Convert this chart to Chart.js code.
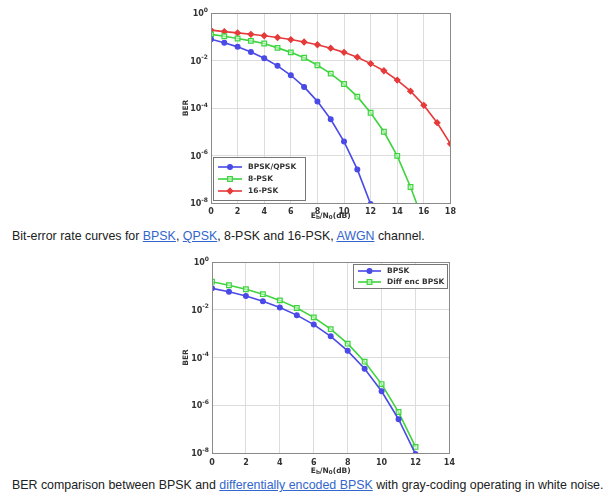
<!DOCTYPE html>
<html><head><meta charset="utf-8">
<script src="https://cdn.jsdelivr.net/npm/chart.js@4/dist/chart.umd.min.js"></script>
<style>
html,body{margin:0;padding:0;background:#fff;width:613px;height:495px;overflow:hidden;font-family:"Liberation Sans",Arial,sans-serif;}
.wrap{position:absolute;}
.cap{position:absolute;left:12px;font-size:12.4px;color:#202122;white-space:nowrap;}
.cap a{color:#3366cc;text-decoration:underline;}
</style></head><body>
<div class="wrap" style="left:175px;top:0px;width:285px;height:222px;"><canvas id="c1" width="285" height="222"></canvas></div>
<div class="cap" style="top:229px;">Bit-error rate curves for <a href="#">BPSK</a>, <a href="#">QPSK</a>, 8-PSK and 16-PSK, <a href="#">AWGN</a> channel.</div>
<div class="wrap" style="left:175px;top:250px;width:285px;height:226px;"><canvas id="c2" width="285" height="226"></canvas></div>
<div class="cap" style="top:478px;">BER comparison between BPSK and <a href="#">differentially encoded BPSK</a> with gray-coding operating in white noise.</div>
<script>
// ---- data ----
const ebn0 = [0,1,2,3,4,5,6,7,8,9,10,11,12,13,14,15,16,17,18];
const berBPSK = [0.0786,0.0563,0.0375,0.0229,0.0125,0.00595,0.00239,7.7e-4,1.9e-4,3.36e-5,3.87e-6,2.6e-7,9.0e-9];
const ber8PSK = [0.126,0.105,0.084,0.067,0.052,0.034,0.022,0.013,0.0063,0.0028,0.00102,3.0e-4,6.3e-5,1.0e-5,9.7e-7,4.7e-8,1.5e-9];
const ber16PSK = [0.19,0.165,0.145,0.127,0.11,0.093,0.076,0.06,0.046,0.033,0.022,0.0138,0.0074,0.0037,0.0015,5.1e-4,1.3e-4,2.4e-5,3.1e-6];
const berDiffBPSK = [0.15,0.106,0.072,0.045,0.0247,0.0118,0.0048,0.00154,3.8e-4,6.7e-5,7.7e-6,5.2e-7,1.8e-8];
const yTicks = [1e-8,1e-6,1e-4,1e-2,1];
const labelsTop = ['BPSK/QPSK','8-PSK','16-PSK'];
const labelsBottom = ['BPSK','Diff enc BPSK'];

const BLUE='#4a4ae6', GREEN='#3ed43e', RED='#e63a3a';
function pts(vals){return vals.map((v,i)=>({x:ebn0[i],y:v}));}
function ds(label,vals,color,style,rad){
  return {label,data:pts(vals),borderColor:color,backgroundColor:style==='rect'?'rgba(255,255,255,0)':color,
    borderWidth:1.6,pointStyle:style,pointRadius:rad,pointBorderColor:color,pointBackgroundColor:style==='rect'?'rgba(210,250,210,0.6)':color,
    pointBorderWidth:1.2,tension:0,fill:false};
}
const TXT='#333';
const framePlugin={id:'frame',
  afterDatasetsDraw(chart,args,opts){
    const ctx=chart.ctx,a=chart.chartArea;
    ctx.save();
    ctx.strokeStyle='#8a8a8a';ctx.lineWidth=1;
    ctx.strokeRect(Math.round(a.left)+0.5,Math.round(a.top)+0.5,Math.round(a.right-a.left),Math.round(a.bottom-a.top));
    // y tick labels 10^e
    const ys=chart.scales.y;
    yTicks.forEach(v=>{
      const py=ys.getPixelForValue(v);
      const e=String(Math.round(Math.log10(v)));
      ctx.font='bold 6px "DejaVu Sans",sans-serif';const we=ctx.measureText(e).width;
      ctx.font='bold 8px "DejaVu Sans",sans-serif';const wb=ctx.measureText('10').width;
      const right=a.left-3;
      ctx.fillStyle=TXT;ctx.textAlign='left';ctx.textBaseline='middle';
      ctx.fillText('10',right-we-wb,py+1);
      ctx.font='bold 6px "DejaVu Sans",sans-serif';
      ctx.fillText(e,right-we,py-3);
    });
    // legend
    const L=opts.legend;
    ctx.fillStyle='#fff';ctx.fillRect(L.x,L.y,L.w,L.h);
    ctx.strokeStyle='#777';ctx.strokeRect(L.x+0.5,L.y+0.5,L.w,L.h);
    chart.data.datasets.forEach((d,i)=>{
      const y=L.y+L.row0+i*L.dy;
      ctx.strokeStyle=d.borderColor;ctx.lineWidth=1.6;
      ctx.beginPath();ctx.moveTo(L.x+L.l0,y);ctx.lineTo(L.x+L.l1,y);ctx.stroke();
      const mx=L.x+(L.l0+L.l1)/2;
      ctx.fillStyle=d.pointBackgroundColor;ctx.strokeStyle=d.borderColor;ctx.lineWidth=1.2;
      Chart.helpers.drawPoint(ctx,{pointStyle:d.pointStyle,radius:d.pointRadius,borderWidth:1.2,rotation:0},mx,y);
      ctx.fillStyle=TXT;ctx.font='bold 7.5px "DejaVu Sans",sans-serif';ctx.textBaseline='middle';ctx.textAlign='left';
      ctx.fillText(d.label,L.x+L.tx,y);
    });
    // y title
    ctx.save();ctx.translate(opts.yTitleX,(a.top+a.bottom)/2);ctx.rotate(-Math.PI/2);
    ctx.fillStyle=TXT;ctx.font='bold 7.5px "DejaVu Sans",sans-serif';ctx.textAlign='center';ctx.textBaseline='middle';
    ctx.fillText('BER',0,0);ctx.restore();
    // x title: E_b/N_0(dB)
    const cx=(a.left+a.right)/2, ty=opts.xTitleY;
    const big='bold 7.5px "DejaVu Sans",sans-serif', small='bold 5.5px "DejaVu Sans",sans-serif';
    const parts=[['E',big,0],['b',small,2],['/N',big,0],['0',small,2],['(dB)',big,0]];
    let w=0;parts.forEach(p=>{ctx.font=p[1];w+=ctx.measureText(p[0]).width;});
    let x=cx-w/2;ctx.fillStyle=TXT;ctx.textAlign='left';ctx.textBaseline='middle';
    parts.forEach(p=>{ctx.font=p[1];ctx.fillText(p[0],x,ty+p[2]);x+=ctx.measureText(p[0]).width;});
    ctx.restore();
  }};
function makeChart(id,datasets,xmax,leftW,bottomH,padTop,padRight,tickPad,legend,yTitleX,xTitleY){
  return new Chart(document.getElementById(id),{
    type:'line',
    data:{datasets},
    options:{responsive:false,animation:false,
      layout:{padding:{top:padTop,right:padRight,left:0,bottom:0}},
      plugins:{legend:{display:false},tooltip:{enabled:false},frame:{legend,yTitleX,xTitleY}},
      scales:{
        x:{type:'linear',min:0,max:xmax,
          ticks:{stepSize:2,padding:tickPad,color:TXT,font:{family:'"DejaVu Sans",sans-serif',size:8,weight:'bold'},maxRotation:0},
          grid:{color:'#dcdcdc',drawTicks:false},border:{display:false},
          afterFit(s){s.height=bottomH;}},
        y:{type:'logarithmic',min:1e-8,max:1,
          afterBuildTicks(s){s.ticks=yTicks.map(v=>({value:v}));},
          ticks:{display:false},
          grid:{color:'#dcdcdc',drawTicks:false},border:{display:false},
          afterFit(s){s.width=leftW;}}
      }},
    plugins:[framePlugin]});
}
makeChart('c1',[
  ds(labelsTop[0],berBPSK,BLUE,'circle',2.4),
  ds(labelsTop[1],ber8PSK,GREEN,'rect',3.3),
  ds(labelsTop[2],ber16PSK,RED,'rectRot',2.8)
],18,36,19,13,6,4,{x:38,y:157,w:92,h:43,row0:10,dy:12,l0:5,l1:29,tx:35},11,216);
makeChart('c2',[
  ds(labelsBottom[0],berBPSK,BLUE,'circle',2.4),
  ds(labelsBottom[1],berDiffBPSK,GREEN,'rect',3.3)
],14,37,23,12,5,5,{x:178,y:14,w:94,h:24,row0:7,dy:11,l0:5,l1:28,tx:34},11,221);
</script>
</body></html>
